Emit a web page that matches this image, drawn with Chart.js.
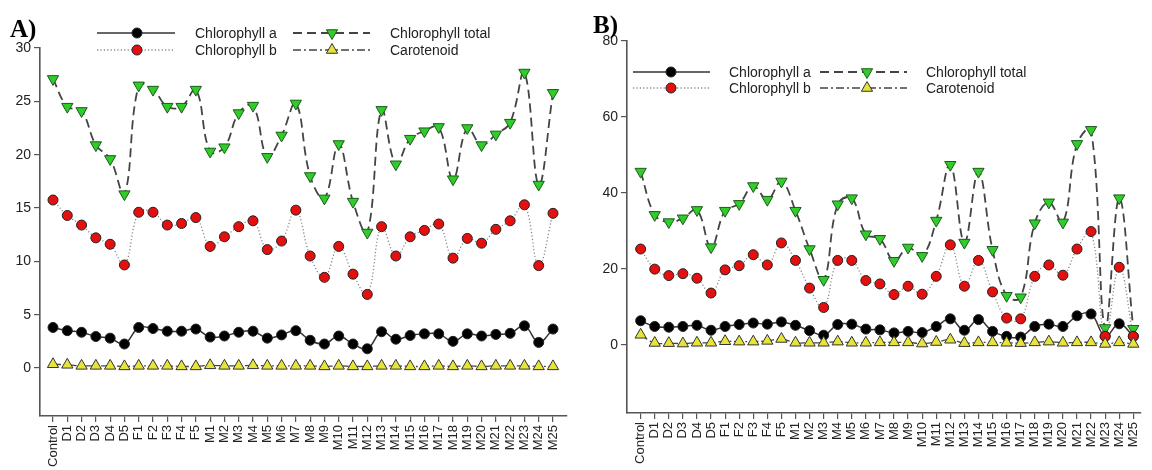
<!DOCTYPE html>
<html>
<head>
<meta charset="utf-8">
<script src="https://cdn.jsdelivr.net/npm/chart.js@4.4.0/dist/chart.umd.min.js"></script>
<style>
 body{margin:0;background:#fff;}
 .panel{position:absolute;top:0;width:576px;height:470px;}
 #pa{left:0;}
 #pb{left:576px;}
</style>
</head>
<body>
<div class="panel" id="pa"><canvas id="chartA" width="576" height="470"></canvas></div>
<div class="panel" id="pb"><canvas id="chartB" width="576" height="470"></canvas></div>
<script>
const categories=["Control","D1","D2","D3","D4","D5","F1","F2","F3","F4","F5",
 "M1","M2","M3","M4","M5","M6","M7","M8","M9","M10","M11","M12","M13","M14","M15",
 "M16","M17","M18","M19","M20","M21","M22","M23","M24","M25"];

// panel A (mg/g)
const chlA_a=[3.8,3.5,3.35,2.95,2.8,2.25,3.8,3.7,3.45,3.45,3.65,2.9,3.0,3.35,3.45,2.8,3.1,3.5,
 2.6,2.25,3.0,2.25,1.8,3.4,2.7,3.05,3.2,3.2,2.5,3.2,3.0,3.15,3.25,3.95,2.4,3.65];
const chlB_a=[15.75,14.3,13.4,12.2,11.6,9.66,14.6,14.6,13.4,13.55,14.1,11.4,12.3,13.25,13.8,11.1,11.9,14.8,
 10.5,8.5,11.4,8.8,6.9,13.25,10.5,12.3,12.9,13.5,10.3,12.15,11.7,13.0,13.8,15.3,9.6,14.5];
const chlTotal_a=[27.1,24.5,24.1,20.9,19.6,16.3,26.5,26.1,24.5,24.5,26.1,20.3,20.7,23.9,24.6,19.8,21.8,24.8,
 18.0,15.9,21.0,15.6,12.7,24.2,19.1,21.5,22.2,22.6,17.7,22.5,20.9,21.9,23.0,27.7,17.2,25.8];
const carot_a=[0.35,0.3,0.2,0.2,0.2,0.15,0.2,0.2,0.2,0.15,0.15,0.25,0.2,0.2,0.25,0.2,0.2,0.2,
 0.2,0.15,0.2,0.15,0.15,0.2,0.2,0.15,0.15,0.2,0.15,0.2,0.15,0.2,0.2,0.2,0.15,0.15];

// panel B
const chlA_b=[6.3,4.8,4.6,4.8,5.1,3.8,4.8,5.3,5.7,5.4,6.0,5.1,3.7,2.5,5.3,5.4,4.1,3.9,
 3.1,3.5,3.2,4.8,6.8,3.8,6.6,3.5,2.2,2.0,4.8,5.4,4.8,7.6,8.1,2.2,5.5,2.2];
const chlB_b=[25.2,19.9,18.2,18.7,17.5,13.6,19.7,20.8,23.7,21.0,26.8,22.2,14.9,9.8,22.2,22.2,16.9,16.0,
 13.2,15.4,13.3,18.0,26.3,15.4,22.2,13.9,7.0,6.8,18.0,21.0,18.3,25.2,29.8,2.2,20.4,2.2];
const chlTotal_b=[45.6,34.2,32.3,33.3,35.5,25.7,35.3,37.1,41.8,38.2,43.0,35.3,25.2,17.1,37.0,38.6,29.1,27.9,
 22.1,25.6,23.4,32.7,47.4,26.9,45.6,25.0,12.9,12.5,32.0,37.5,32.2,52.9,56.6,4.4,38.6,4.2];
const carot_b=[2.6,0.45,0.4,0.3,0.5,0.5,0.9,0.8,0.8,1.0,1.5,0.5,0.5,0.5,0.8,0.5,0.5,0.6,
 0.6,0.6,0.3,0.7,1.3,0.4,0.6,0.6,0.5,0.4,0.6,0.8,0.5,0.6,0.6,0.2,0.6,0.2];

const yTicksA=[0,5,10,15,20,25,30];
const yTicksB=[0,20,40,60,80];

const seriesNames=["Chlorophyll a","Chlorophyll b","Chlorophyll total","Carotenoid"];

const FONT="'Liberation Sans', Arial, sans-serif";
const AXIS="#555";
const TXT="#222";

// line + marker look for each series, in seriesNames order
const looks=[
 {line:"#333",width:1.5,dash:[],       style:"circle",  rot:0,  r:5,  fill:"#000000",stroke:"#222"},
 {line:"#888",width:1.3,dash:[1.2,2.2],style:"circle",  rot:0,  r:5,  fill:"#e3100f",stroke:"#222"},
 {line:"#444",width:1.8,dash:[9,5],    style:"triangle",rot:180,r:6.5,fill:"#2fcc2a",stroke:"#1d5a1d"},
 {line:"#444",width:1.3,dash:[8,3,2,3],style:"triangle",rot:0,  r:6.5,fill:"#e6e43a",stroke:"#333"}
];

function marker(ctx,lk,x,y){
 ctx.save();
 ctx.setLineDash([]);
 ctx.fillStyle=lk.fill;
 ctx.strokeStyle=lk.stroke;
 ctx.lineWidth=1;
 ctx.beginPath();
 if(lk.style==="circle"){
   ctx.arc(x,y,lk.r,0,Math.PI*2);
 }else{
   let a=lk.rot*Math.PI/180;
   for(let k=0;k<3;k++){
     const px=x+Math.sin(a)*lk.r, py=y-Math.cos(a)*lk.r;
     k?ctx.lineTo(px,py):ctx.moveTo(px,py);
     a+=Math.PI*2/3;
   }
   ctx.closePath();
 }
 ctx.fill();
 ctx.stroke();
 ctx.restore();
}

// legend block and panel letter, drawn on top of the plot
const overlay={
 id:"overlay",
 afterDraw(chart,args,o){
   const ctx=chart.ctx;
   ctx.save();
   ctx.font="bold 25px 'Liberation Serif', 'Times New Roman', serif";
   ctx.fillStyle="#000";
   ctx.textBaseline="alphabetic";
   ctx.fillText(o.letter,o.letterX,o.letterY);
   ctx.font="14px "+FONT;
   ctx.fillStyle=TXT;
   ctx.textBaseline="middle";
   o.cols.forEach((c,ci)=>{
     o.rows.forEach((ry,ri)=>{
       const idx=ci*2+ri;
       const lk=looks[idx];
       ctx.save();
       ctx.strokeStyle=lk.line;
       ctx.lineWidth=lk.width;
       ctx.setLineDash(lk.dash);
       ctx.beginPath();
       ctx.moveTo(c.x0,ry);
       ctx.lineTo(c.x1,ry);
       ctx.stroke();
       ctx.restore();
       marker(ctx,lk,c.m,ry);
       ctx.fillText(seriesNames[idx],c.t,ry+1);
     });
   });
   ctx.restore();
 }
};

function points(vals){
 return vals.map((v,i)=>({x:i,y:v}));
}

function buildChart(id,data,opt){
 const datasets=data.map((vals,i)=>{
   const lk=looks[i];
   return {
     label:seriesNames[i],
     data:points(vals),
     borderColor:lk.line,
     borderWidth:lk.width,
     borderDash:lk.dash,
     tension:0.4,
     pointStyle:lk.style,
     pointRotation:lk.rot,
     pointRadius:lk.r,
     pointBackgroundColor:lk.fill,
     pointBorderColor:lk.stroke,
     pointBorderWidth:1,
     clip:false,
     order:[2,1,3,0][i]
   };
 });
 return new Chart(document.getElementById(id),{
   type:"line",
   data:{datasets:datasets},
   options:{
     responsive:false,
     animation:false,
     events:[],
     layout:{padding:{top:opt.top,right:opt.right,left:0,bottom:0}},
     plugins:{legend:{display:false},tooltip:{enabled:false},overlay:opt.overlay},
     scales:{
       x:{
         type:"linear",
         min:opt.xMin,max:opt.xMax,
         afterBuildTicks:s=>{s.ticks=categories.map((c,i)=>({value:i}));},
         afterFit:s=>{s.height=opt.xh;},
         ticks:{autoSkip:false,minRotation:90,maxRotation:90,padding:3,color:TXT,
           font:{family:FONT,size:13},callback:(v,i)=>categories[i]},
         grid:{drawOnChartArea:false,drawTicks:true,tickLength:6,color:AXIS,lineWidth:1.2},
         border:{color:AXIS,width:1.6}
       },
       y:{
         min:opt.yMin,max:opt.yMax,
         afterBuildTicks:s=>{s.ticks=opt.yTicks.map(v=>({value:v}));},
         afterFit:s=>{s.width=opt.yw;},
         ticks:{padding:3,color:TXT,font:{family:FONT,size:14}},
         grid:{drawOnChartArea:false,drawTicks:true,tickLength:6,color:AXIS,lineWidth:1.2},
         border:{color:AXIS,width:1.6}
       }
     }
   },
   plugins:[overlay]
 });
}

buildChart("chartA",[chlA_a,chlB_a,chlTotal_a,carot_a],{
 top:48,right:9,xh:54,yw:40,
 xMin:-0.91,xMax:35.98,yMin:-4.5,yMax:30,yTicks:yTicksA,
 overlay:{letter:"A)",letterX:10,letterY:37,rows:[33,50],
   cols:[{x0:97,x1:175,m:137,t:195},{x0:293,x1:370,m:332,t:390}]}
});

buildChart("chartB",[chlA_b,chlB_b,chlTotal_b,carot_b],{
 top:41,right:0,xh:57,yw:51,
 xMin:-0.97,xMax:35.49,yMin:-18,yMax:80,yTicks:yTicksB,
 overlay:{letter:"B)",letterX:17,letterY:33,rows:[72,88],
   cols:[{x0:57,x1:134,m:95,t:153},{x0:244,x1:331,m:291,t:350}]}
});
</script>
</body>
</html>
